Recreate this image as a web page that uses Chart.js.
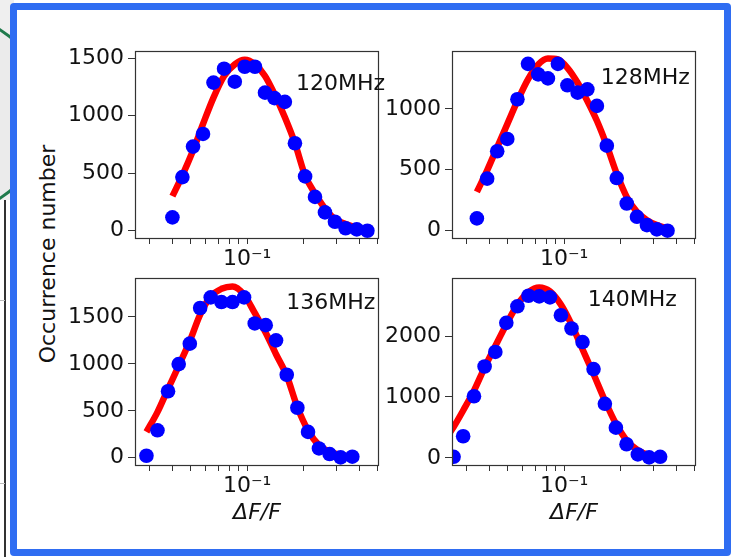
<!DOCTYPE html>
<html>
<head>
<meta charset="utf-8">
<script src="https://cdn.jsdelivr.net/npm/chart.js@4.4.0/dist/chart.umd.min.js"></script>
<style>
  html, body { margin: 0; padding: 0; background: #fff; overflow: hidden; }
  #stage { position: relative; width: 731px; height: 557px; overflow: hidden; background: #fff;
           font-family: "DejaVu Sans", sans-serif; }
  .side  { position: absolute; left: 0; top: 0; width: 14px; height: 200px; background: #efefef; }
  .ring  { position: absolute; left: -154px; top: 13px; width: 202px; height: 202px; box-sizing: border-box;
           border: 3px solid #1f7a4c; border-radius: 50%; background: #ebebeb; }
  .vline { position: absolute; left: 4px; top: 200px; width: 2px; height: 357px; background: #333; }
  .hl    { position: absolute; left: 0; width: 5px; height: 1px; background: #bbb; }
  #frame { position: absolute; left: 10px; top: 3px; width: 721px; height: 553px; box-sizing: border-box;
           border: 7px solid #2f6df2; border-radius: 4px; background: #fff; }
  canvas { position: absolute; }
  #ylab  { position: absolute; left: 47px; top: 254px; transform: translate(-50%, -50%) rotate(-90deg);
           font-size: 22px; white-space: nowrap; color: #111; }
</style>
</head>
<body>
<div id="stage">
  <div class="side"></div>
  <div class="ring"></div>
  <div class="vline"></div>
  <div class="hl" style="top:300px"></div>
  <div class="hl" style="top:483px"></div>
  <div id="frame"></div>
  <div id="ylab">Occurrence number</div>
</div>

<script>
/* ---------- data ---------- */
var xTicks = [0.03, 0.04, 0.05, 0.06, 0.07, 0.08, 0.09, 0.1, 0.2, 0.3, 0.4, 0.5];
var panelNames = ['120MHz', '128MHz', '136MHz', '140MHz'];

// 120 MHz
var x120   = [0.0398, 0.045, 0.0513, 0.058, 0.066, 0.0752, 0.0858, 0.097, 0.110, 0.1245,
              0.140, 0.159, 0.180, 0.204, 0.2305, 0.2606, 0.2947, 0.336, 0.3855, 0.4395];
var n120   = [116, 466, 731, 841, 1287, 1408, 1295, 1425, 1425, 1200,
              1152, 1120, 760, 472, 294, 159, 78, 21, 12, 0];
var fitX120 = x120;
var fit120 = [300, 481, 697, 927, 1157, 1345, 1446, 1485, 1446, 1345,
              1187, 985, 760, 481, 323, 193, 101, 58, 26, 6];
var yTicks120 = [0, 500, 1000, 1500];

// 128 MHz
var x128   = [0.0341, 0.0387, 0.0438, 0.0496, 0.0562, 0.064, 0.0726, 0.0818, 0.0925, 0.104,
              0.118, 0.133, 0.1496, 0.169, 0.191, 0.216, 0.245, 0.277, 0.313, 0.357];
var n128   = [101, 427, 652, 753, 1079, 1369, 1283, 1250, 1369, 1193,
              1133, 1160, 1024, 698, 432, 223, 114, 46, 11, 0];
var fitX128 = x128;
var fit128 = [318, 495, 685, 875, 1065, 1242, 1364, 1413, 1405, 1337,
              1214, 1065, 902, 698, 468, 277, 155, 87, 46, 20];
var yTicks128 = [0, 500, 1000];

// 136 MHz
var x136   = [0.0289, 0.0331, 0.0377, 0.043, 0.0493, 0.056, 0.0638, 0.0728, 0.0834, 0.0962,
              0.1097, 0.1256, 0.1426, 0.1627, 0.1855, 0.2115, 0.242, 0.276, 0.316, 0.365];
var n136   = [21, 292, 708, 997, 1215, 1595, 1708, 1658, 1658, 1708,
              1430, 1412, 1250, 884, 532, 275, 99, 39, 4, 11];
var fitX136 = x136;
var fit136 = [275, 486, 733, 979, 1243, 1525, 1718, 1799, 1824, 1736,
              1542, 1331, 1102, 873, 539, 292, 134, 63, 28, 11];
var yTicks136 = [0, 500, 1000, 1500];

// 140 MHz
var x140   = [0.0256, 0.0288, 0.0329, 0.0375, 0.0428, 0.049, 0.0562, 0.0644, 0.0735, 0.0839,
              0.096, 0.1094, 0.1253, 0.1435, 0.165, 0.189, 0.2155, 0.2477, 0.2847, 0.326];
var n140   = [16, 354, 1011, 1500, 1739, 2217, 2489, 2663, 2652, 2636,
              2342, 2125, 1902, 1457, 887, 495, 223, 55, 6, 16];
var fitX140 = [0.0245, 0.0256, 0.0288, 0.0329, 0.0375, 0.0428, 0.049, 0.0562, 0.0644, 0.0735, 0.0839,
               0.096, 0.1094, 0.1253, 0.1435, 0.165, 0.189, 0.2155, 0.2477, 0.2847, 0.326];
var fit140 = [420, 505, 777, 1103, 1483, 1837, 2191, 2517, 2722, 2799, 2734,
              2517, 2191, 1783, 1376, 940, 561, 289, 126, 44, 16];
var yTicks140 = [0, 1000, 2000];

/* ---------- layout ---------- */
var FONT = '"DejaVu Sans", sans-serif';
var FS = 22;
var X_MIN = 0.0251, X_MAX = 0.507;

var panels = [
  { name: panelNames[0], x: x120, n: n120, fx: fitX120, fy: fit120, ticks: yTicks120,
    yMin: -72,  yMax: 1560, box: [135, 50, 244, 189],  lab: [0.66, 0.175], bottom: false },
  { name: panelNames[1], x: x128, n: n128, fx: fitX128, fy: fit128, ticks: yTicks128,
    yMin: -68,  yMax: 1473, box: [452, 50, 244, 189],  lab: [0.61, 0.143], bottom: false },
  { name: panelNames[2], x: x136, n: n136, fx: fitX136, fy: fit136, ticks: yTicks136,
    yMin: -88,  yMax: 1912, box: [135, 277, 244, 189], lab: [0.62, 0.132], bottom: true },
  { name: panelNames[3], x: x140, n: n140, fx: fitX140, fy: fit140, ticks: yTicks140,
    yMin: -135, yMax: 2951, box: [452, 277, 244, 189], lab: [0.556, 0.118], bottom: true }
];

/* spines + in-panel frequency label */
var boxPlugin = {
  id: 'box',
  afterDatasetsDraw: function (chart, args, opts) {
    var a = chart.chartArea, ctx = chart.ctx;
    ctx.save();
    ctx.strokeStyle = '#333';
    ctx.lineWidth = 1.2;
    ctx.strokeRect(Math.round(a.left) + 0.5, Math.round(a.top) + 0.5,
                   Math.round(a.width) - 1, Math.round(a.height) - 1);
    ctx.fillStyle = '#111';
    ctx.font = FS + 'px ' + FONT;
    ctx.textBaseline = 'middle';
    ctx.textAlign = 'left';
    ctx.fillText(opts.name, a.left + opts.fx * a.width, a.top + opts.fy * a.height);
    ctx.restore();
  }
};

function makePanel(p) {
  var padTop = 16, padRight = 34, yw = 76, xh = p.bottom ? 64 : 40;
  var w = p.box[2] + yw + padRight, h = p.box[3] + padTop + xh;
  var c = document.createElement('canvas');
  c.width = w; c.height = h;
  c.style.width = w + 'px'; c.style.height = h + 'px';
  c.style.left = (p.box[0] - yw) + 'px';
  c.style.top = (p.box[1] - padTop) + 'px';
  document.getElementById('stage').appendChild(c);

  new Chart(c, {
    type: 'scatter',
    data: {
      datasets: [
        {
          data: p.x.map(function (v, i) { return { x: v, y: p.n[i] }; }),
          backgroundColor: '#0000ff', borderColor: '#0000ff', borderWidth: 0,
          pointRadius: 7.3, pointHoverRadius: 7.3, order: 0, clip: 0
        },
        {
          type: 'line',
          data: p.fx.map(function (v, i) { return { x: v, y: p.fy[i] }; }),
          borderColor: '#ff0000', borderWidth: 6.5, borderCapStyle: 'butt',
          pointRadius: 0, fill: false, cubicInterpolationMode: 'monotone',
          order: 1, clip: 0
        }
      ]
    },
    options: {
      responsive: false,
      animation: false,
      devicePixelRatio: 1,
      events: [],
      layout: { padding: { top: padTop, right: padRight, left: 0, bottom: 0 } },
      plugins: {
        legend: { display: false },
        tooltip: { enabled: false },
        box: { name: p.name, fx: p.lab[0], fy: p.lab[1] }
      },
      scales: {
        x: {
          type: 'logarithmic', min: X_MIN, max: X_MAX,
          afterBuildTicks: function (s) { s.ticks = xTicks.map(function (v) { return { value: v }; }); },
          afterFit: function (s) { s.height = xh; },
          border: { display: false },
          grid: { drawOnChartArea: false, tickLength: 5, color: '#333', lineWidth: 1 },
          ticks: {
            autoSkip: false, maxRotation: 0, minRotation: 0, padding: 2, color: '#111',
            font: { family: FONT, size: FS },
            callback: function (v) { return v === 0.1 ? '10\u207B\u00B9' : ''; }
          },
          title: {
            display: p.bottom, text: '\u0394F/F', color: '#111',
            font: { family: FONT, size: FS, style: 'italic' },
            padding: { top: 0, bottom: 4 }
          }
        },
        y: {
          min: p.yMin, max: p.yMax,
          afterBuildTicks: function (s) { s.ticks = p.ticks.map(function (v) { return { value: v }; }); },
          afterFit: function (s) { s.width = yw; },
          border: { display: false },
          grid: { drawOnChartArea: false, tickLength: 7, color: '#333', lineWidth: 1 },
          ticks: {
            padding: 4, color: '#111',
            font: { family: FONT, size: FS },
            callback: function (v) { return String(v); }
          }
        }
      }
    },
    plugins: [boxPlugin]
  });
}

panels.forEach(makePanel);
</script>
</body>
</html>
